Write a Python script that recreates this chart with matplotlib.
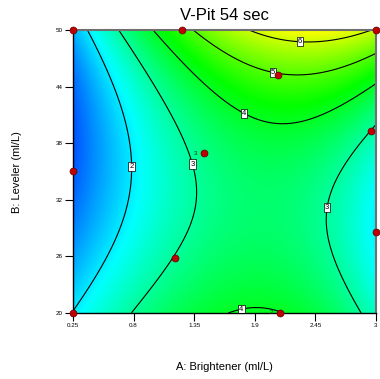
import numpy as np
import matplotlib
matplotlib.use("Agg")
import matplotlib.pyplot as plt
from matplotlib.colors import LinearSegmentedColormap

# factor ranges (actual units)
a_lo, a_hi = 0.25, 3.0
b_lo, b_hi = 20.0, 50.0

x_ticks = [0.25, 0.8, 1.35, 1.9, 2.45, 3.0]
x_tick_labels = ["0.25", "0.8", "1.35", "1.9", "2.45", "3"]
y_ticks = [20, 26, 32, 38, 44, 50]

# design points
pts_a = [0.25, 1.24, 3.0, 0.25, 1.44, 2.11, 2.955, 1.176, 3.0, 0.25, 2.13]
pts_b = [50, 50, 50, 35, 36.96, 45.23, 39.29, 25.83, 28.59, 20, 20]
rep_labels = {4: "3", 10: "2"}

# cubic model in coded factors
# terms: 1, A, B, AB, A^2, B^2, A^2B, AB^2, A^3, B^3
coef = np.array([3.309, 1.213, 0.574, 0.947, -1.772, 1.494,
                 -0.127, 0.486, -0.440, 0.247])

levels = [2, 3, 4, 5, 6]


def terms(x, y):
    return np.stack([np.ones_like(x), x, y, x * y, x ** 2, y ** 2,
                     x ** 2 * y, x * y ** 2, x ** 3, y ** 3], axis=-1)


cmap = LinearSegmentedColormap.from_list(
    "de", ["#0000ff", "#00ffff", "#00ff00", "#ffff00", "#ff0000"])

plt.rcParams["font.family"] = ["Liberation Sans", "DejaVu Sans"]
fig = plt.figure(figsize=(3.8, 3.79), dpi=100)
ax = fig.add_axes([73 / 380, 1 - 313 / 379, 303 / 380, 283 / 379])

A = np.linspace(a_lo, a_hi, 300)
B = np.linspace(b_lo, b_hi, 300)
AA, BB = np.meshgrid(A, B)
X = (AA - (a_lo + a_hi) / 2) / ((a_hi - a_lo) / 2)
Y = (BB - (b_lo + b_hi) / 2) / ((b_hi - b_lo) / 2)
Z = terms(X, Y) @ coef

ax.imshow(Z, extent=[a_lo, a_hi, b_lo, b_hi], origin="lower", aspect="auto",
          cmap=cmap, vmin=0.0, vmax=8.6, interpolation="bilinear")
cs = ax.contour(AA, BB, Z, levels=levels, colors="black", linewidths=0.8)
lbl_pos = [(0.795, 35.5), (1.37, 35.9), (2.51, 31.3), (1.82, 41.5),
           (1.77, 20.85), (2.07, 45.8), (2.31, 48.9)]
texts = ax.clabel(cs, inline=False, fontsize=5.5, fmt="%d", manual=lbl_pos)
for t in texts:
    t.set_rotation(0)
    t.set_bbox(dict(boxstyle="square,pad=0.15", fc="white", ec="black", lw=0.5))

ax.plot(pts_a, pts_b, "o", ms=5, mfc="#c00000", mec="#600000", mew=0.5,
        clip_on=False, zorder=5)
for i, s in rep_labels.items():
    ax.text(pts_a[i] - 0.06, pts_b[i], s, fontsize=4.5, ha="right", va="center",
            color="#203020", zorder=5)

ax.set_xlim(a_lo, a_hi)
ax.set_ylim(b_lo, b_hi)
ax.set_xticks(x_ticks)
ax.set_xticklabels(x_tick_labels)
ax.set_yticks(y_ticks)
ax.tick_params(direction="out", length=5.8, width=0.8, labelsize=4.5, pad=1.5)
for side in ("left", "bottom"):
    ax.spines[side].set_color("black")
    ax.spines[side].set_linewidth(1)
for side in ("top", "right"):
    ax.spines[side].set_color("#707070")
    ax.spines[side].set_linewidth(1.5)

fig.text(224.5 / 380, 1 - 16 / 379, "V-Pit 54 sec", fontsize=12,
         ha="center", va="center")
fig.text(224.5 / 380, 1 - 367 / 379, "A: Brightener (ml/L)", fontsize=8,
         ha="center", va="center")
fig.text(17 / 380, 1 - 172 / 379, "B: Leveler (ml/L)", fontsize=8,
         ha="center", va="center", rotation=90)

fig.savefig("out.png", dpi=100)
